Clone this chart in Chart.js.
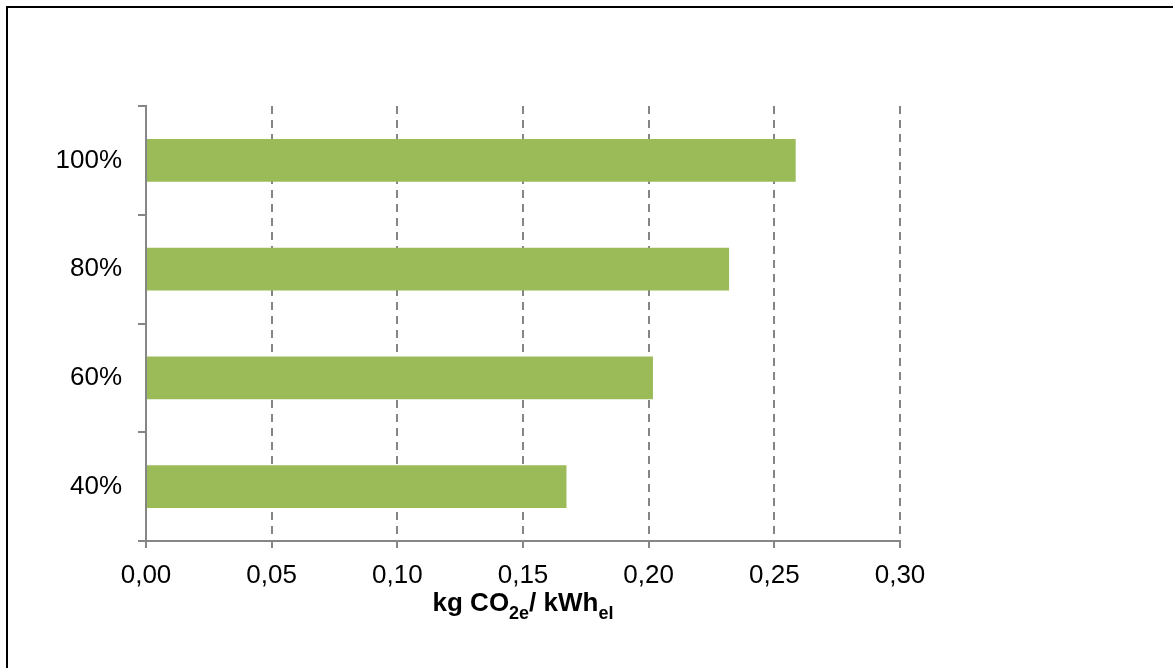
<!DOCTYPE html>
<html>
<head>
<meta charset="utf-8">
<script src="https://cdn.jsdelivr.net/npm/chart.js@4/dist/chart.umd.min.js"></script>
<style>
  body { margin: 0; background: #fff; }
  #wrap { position: relative; width: 1173px; height: 668px; }
  #frame { position: absolute; left: 6px; top: 6px; right: 0; bottom: 0;
           border-left: 2px solid #000; border-top: 2px solid #000; pointer-events: none; }
</style>
</head>
<body>
<div id="wrap">
  <canvas id="chart" width="1173" height="668"></canvas>
  <div id="frame"></div>
</div>
<script>
// data
const categories = ["100%", "80%", "60%", "40%"];
const emissions = [0.2585, 0.232, 0.2017, 0.1673];
const xTickLabels = ["0,00", "0,05", "0,10", "0,15", "0,20", "0,25", "0,30"];

const FONT = "'Liberation Sans', Arial, sans-serif";
const AXIS_GREY = "#868686";

// axis title with subscripts: kg CO2e/ kWhel
const axisTitle = {
    id: "axisTitle",
    afterDraw(chart) {
        const ctx = chart.ctx;
        const parts = [
            { t: "kg CO", size: 26, dy: 0 },
            { t: "2e", size: 18, dy: 8 },
            { t: "/ kWh", size: 26, dy: 0 },
            { t: "el", size: 18, dy: 8 },
        ];
        ctx.save();
        ctx.fillStyle = "#000";
        ctx.textBaseline = "alphabetic";
        ctx.textAlign = "left";
        let total = 0;
        parts.forEach(p => {
            ctx.font = "bold " + p.size + "px " + FONT;
            p.w = ctx.measureText(p.t).width;
            total += p.w;
        });
        const area = chart.chartArea;
        let x = (area.left + area.right) / 2 - total / 2;
        const baseY = 611;
        parts.forEach(p => {
            ctx.font = "bold " + p.size + "px " + FONT;
            ctx.fillText(p.t, x, baseY + p.dy);
            x += p.w;
        });
        ctx.restore();
    }
};

new Chart(document.getElementById("chart"), {
    type: "bar",
    data: {
        labels: categories,
        datasets: [{
            data: emissions,
            backgroundColor: "#9BBB59",
            borderWidth: 0,
            barPercentage: 0.395,
            categoryPercentage: 1.0,
        }],
    },
    options: {
        indexAxis: "y",
        responsive: false,
        devicePixelRatio: 1,
        animation: false,
        layout: { padding: { left: 0, top: 106, right: 273, bottom: 0 } },
        plugins: {
            legend: { display: false },
            tooltip: { enabled: false },
        },
        scales: {
            x: {
                min: 0,
                max: 0.3,
                afterFit: (scale) => { scale.height = 127; },
                ticks: {
                    stepSize: 0.05,
                    color: "#000",
                    font: { family: FONT, size: 26 },
                    padding: 12,
                    maxRotation: 0,
                    callback: (value, index) => xTickLabels[index],
                },
                grid: {
                    color: "#858585",
                    lineWidth: 2,
                    drawTicks: true,
                    tickLength: 7,
                    tickColor: AXIS_GREY,
                    tickWidth: 2,
                },
                border: { display: true, color: AXIS_GREY, width: 2, dash: [8, 6] },
            },
            y: {
                afterFit: (scale) => { scale.width = 146; },
                ticks: {
                    color: "#000",
                    font: { family: FONT, size: 26 },
                    padding: 16,
                },
                grid: {
                    offset: true,
                    drawOnChartArea: false,
                    drawTicks: true,
                    tickLength: 8,
                    color: AXIS_GREY,
                    lineWidth: 2,
                },
                border: { display: true, color: AXIS_GREY, width: 2 },
            },
        },
    },
    plugins: [axisTitle],
});
</script>
</body>
</html>
